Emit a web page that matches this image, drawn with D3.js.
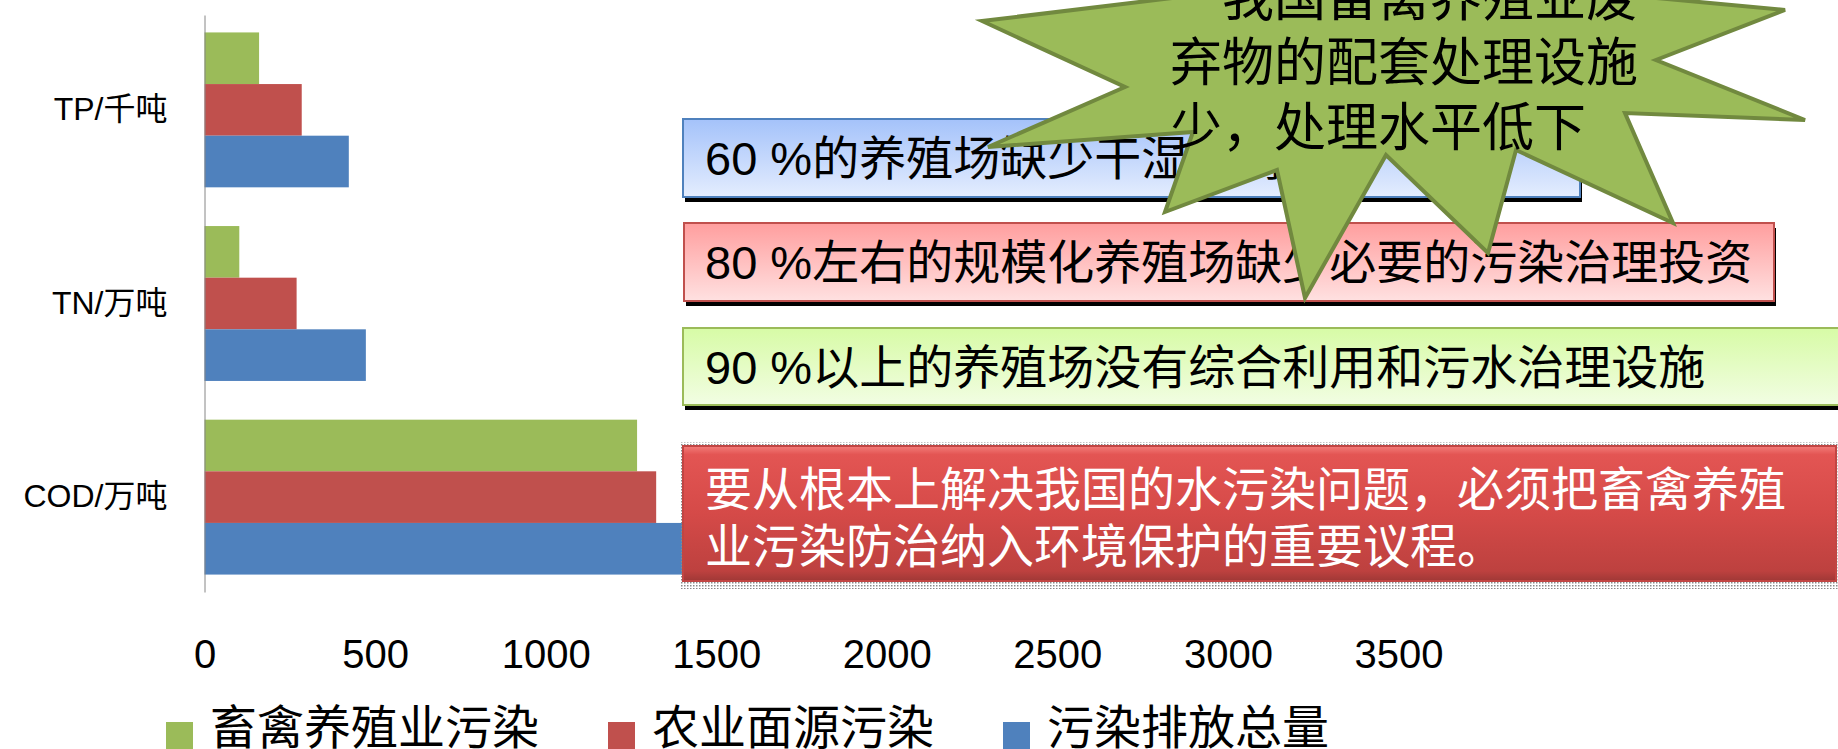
<!DOCTYPE html>
<html>
<head>
<meta charset="utf-8">
<script src="https://cdn.jsdelivr.net/npm/d3@7"></script>
<style>
    body { margin: 0; background: #fff; overflow: hidden; }
    svg { display: block; }
    text { font-family: 'Liberation Sans', 'Noto Sans CJK SC', sans-serif; }
    .cjk { font-family: 'Noto Sans CJK SC', sans-serif; }
</style>
</head>
<body>
<div id="chart"></div>
<script>
// Chart data (pollution census figures)
const categories = ['TP/千吨', 'TN/万吨', 'COD/万吨'];
const seriesNames = ['畜禽养殖业污染', '农业面源污染', '污染排放总量'];
const livestock = [160, 102, 1268];
const agricultural = [285, 270, 1324];
const totalEmission = [423, 473, 3029];
const xTicks = [0, 500, 1000, 1500, 2000, 2500, 3000, 3500];
const seriesColors = ['#9bbb59', '#c0504d', '#4f81bd'];

// Callout texts
const noteTexts = [
    '60 %的养殖场缺少干湿分离设施',
    '80 %左右的规模化养殖场缺少必要的污染治理投资',
    '90 %以上的养殖场没有综合利用和污水治理设施',
];
const conclusionLines = ['要从根本上解决我国的水污染问题，必须把畜禽养殖', '业污染防治纳入环境保护的重要议程。'];
const starLines = ['　我国畜禽养殖业废', '弃物的配套处理设施', '少，处理水平低下'];

const width = 1838;
const height = 749;

// layout of the callout shapes
const noteBoxes = [
    { x: 683, y: 119, w: 897, h: 78, top: '#a4c2fa', bottom: '#e4edfe', stroke: '#4f81bd' },
    { x: 684, y: 223, w: 1090, h: 78, top: '#ff9e9e', bottom: '#ffe1e1', stroke: '#c0504d' },
    { x: 683, y: 328, w: 1220, h: 77, top: '#d7fba6', bottom: '#f2fde3', stroke: '#9bbb59' },
];
const conclusionBox = { x: 682, y: 445, w: 1155, h: 137 };
const starOutline = [
    [982, 21], [1230, -9], [1150, -130], [1330, -45], [1400, -170], [1480, -45], [1650, -130],
    [1560, -11], [1785, 10], [1656, 60], [1805, 120], [1625, 113], [1673, 223], [1516, 150],
    [1488, 253], [1386, 155], [1305, 298], [1277, 170], [1165, 212], [1193, 132], [988, 147],
    [1125, 87],
];

// init drawing area
const svg = d3.select('#chart').append('svg').attr('width', width).attr('height', height);
const defs = svg.append('defs');

noteBoxes.forEach((b, i) => {
    const g = defs.append('linearGradient').attr('id', 'note' + i).attr('x1', 0).attr('y1', 0).attr('x2', 0).attr('y2', 1);
    g.append('stop').attr('offset', '0%').attr('stop-color', b.top);
    g.append('stop').attr('offset', '100%').attr('stop-color', b.bottom);
});

const redGrad = defs.append('linearGradient').attr('id', 'redBox').attr('x1', 0).attr('y1', 0).attr('x2', 0).attr('y2', 1);
[
    ['0%', '#f5827f'],
    ['7%', '#e35553'],
    ['50%', '#d54a48'],
    ['92%', '#bd413f'],
    ['100%', '#9c3735'],
].forEach((s) => redGrad.append('stop').attr('offset', s[0]).attr('stop-color', s[1]));

const dots = defs.append('pattern').attr('id', 'dots').attr('width', 3).attr('height', 3).attr('patternUnits', 'userSpaceOnUse');
dots.append('rect').attr('width', 1.5).attr('height', 1.5).attr('fill', '#8a8a8a');

// Scales and Axes
const x = d3.scaleLinear().domain([0, 3500]).range([204.5, 1398.5]);
const y = d3.scaleBand().domain(categories).range([15, 592]).paddingInner(0.2).paddingOuter(0.09);
const ySub = d3.scaleBand().domain(seriesNames).range([0, y.bandwidth()]);

const rows = categories.map((c, i) => ({
    category: c,
    values: [livestock[i], agricultural[i], totalEmission[i]],
}));

// bars
const groups = svg
    .append('g')
    .selectAll('g')
    .data(rows)
    .join('g')
    .attr('transform', (d) => `translate(0,${y(d.category)})`);

groups
    .selectAll('rect')
    .data((d) => d.values.map((v, i) => ({ name: seriesNames[i], value: v, color: seriesColors[i] })))
    .join('rect')
    .attr('x', x(0))
    .attr('y', (d) => ySub(d.name))
    .attr('width', (d) => x(d.value) - x(0))
    .attr('height', ySub.bandwidth())
    .attr('fill', (d) => d.color);

const gy = svg
    .append('g')
    .attr('transform', `translate(${x(0)},0)`)
    .call(d3.axisLeft(y).tickSize(0).tickSizeOuter(0).tickPadding(37));
gy.select('.domain').attr('stroke', '#868686');
gy.selectAll('text').attr('font-size', 32).attr('fill', '#000');

const gx = svg
    .append('g')
    .attr('transform', 'translate(0,592)')
    .call(d3.axisBottom(x).tickValues(xTicks).tickFormat(d3.format('d')).tickSize(0).tickPadding(47.6));
gx.select('.domain').remove();
gx.selectAll('text').attr('font-size', 40).attr('fill', '#000');

// note boxes
noteBoxes.forEach((b, i) => {
    svg.append('rect').attr('x', b.x + 2).attr('y', b.y + 5).attr('width', b.w).attr('height', b.h).attr('fill', '#000');
    svg.append('rect')
        .attr('x', b.x)
        .attr('y', b.y)
        .attr('width', b.w)
        .attr('height', b.h)
        .attr('fill', `url(#note${i})`)
        .attr('stroke', b.stroke)
        .attr('stroke-width', 2);
    svg.append('text')
        .attr('x', 705)
        .attr('y', b.y + 56)
        .attr('font-size', 47)
        .attr('fill', '#000')
        .text(noteTexts[i]);
});

// conclusion box
const cb = conclusionBox;
svg.append('rect').attr('x', cb.x - 2).attr('y', cb.y - 3).attr('width', cb.w + 4).attr('height', cb.h + 10).attr('fill', 'url(#dots)');
svg.append('rect').attr('x', cb.x).attr('y', cb.y).attr('width', cb.w).attr('height', cb.h).attr('fill', 'url(#redBox)');
svg.append('rect')
    .attr('x', cb.x + 1)
    .attr('y', cb.y + 1)
    .attr('width', cb.w - 2)
    .attr('height', cb.h - 2)
    .attr('fill', 'none')
    .attr('stroke', '#c24543')
    .attr('stroke-width', 2);

svg.append('g')
    .selectAll('text')
    .data(conclusionLines)
    .join('text')
    .attr('class', 'cjk')
    .attr('x', 705)
    .attr('y', (d, i) => 506 + i * 57)
    .attr('font-size', 47)
    .attr('fill', '#fff')
    .text((d) => d);

// star callout
svg.append('path')
    .attr('d', d3.line()(starOutline) + 'Z')
    .attr('fill', '#9bbb59')
    .attr('stroke', '#71893f')
    .attr('stroke-width', 4)
    .attr('stroke-linejoin', 'miter');

svg.append('g')
    .selectAll('text')
    .data(starLines)
    .join('text')
    .attr('class', 'cjk')
    .attr('x', 1170)
    .attr('y', (d, i) => 16 + i * 65)
    .attr('font-size', 52)
    .attr('fill', '#000')
    .text((d) => d);

// legend
let lx = 166;
seriesNames.forEach((name, i) => {
    svg.append('rect').attr('x', lx).attr('y', 722).attr('width', 27).attr('height', 27).attr('fill', seriesColors[i]);
    const t = svg
        .append('text')
        .attr('class', 'cjk')
        .attr('x', lx + 44)
        .attr('y', 744)
        .attr('font-size', 47)
        .attr('fill', '#000')
        .text(name);
    lx += 44 + t.node().getComputedTextLength() + 69;
});
</script>
</body>
</html>
